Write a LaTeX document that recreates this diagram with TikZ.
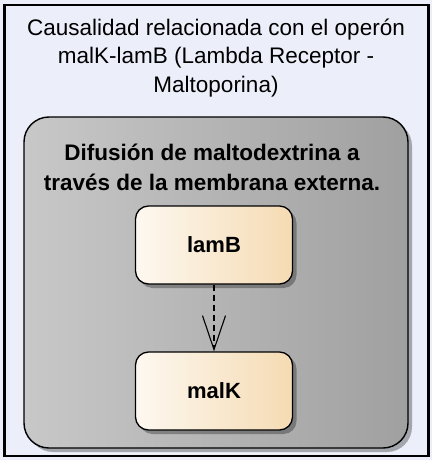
\documentclass[tikz,border=0pt]{standalone}
\usepackage{fontspec}
\setmainfont{Liberation Sans}
\usetikzlibrary{arrows.meta,shadows}
\definecolor{pagebg}{HTML}{ECEFF9}
\definecolor{grayL}{HTML}{C8C8C8}
\definecolor{grayR}{HTML}{A0A0A0}
\definecolor{boxL}{HTML}{FDF8F0}
\definecolor{boxR}{HTML}{F5DBB3}
\tikzset{
  container/.style={draw=black,line width=1.4pt,rounded corners=25pt,
    left color=grayL,right color=grayR,
    drop shadow={shadow xshift=4pt,shadow yshift=-4pt,fill=black,opacity=0.3}},
  genebox/.style={draw=black,line width=1.3pt,rounded corners=13pt,
    left color=boxL,right color=boxR,minimum width=157pt,minimum height=78pt,
    font=\fontsize{22}{26}\selectfont\bfseries,
    drop shadow={shadow xshift=4pt,shadow yshift=-4pt,fill=black,opacity=0.3}},
  causes/.style={dashed,line width=1.1pt,dash pattern=on 6pt off 4pt,
    -{Straight Barb[length=34pt,width=23pt,line width=1.1pt]}}
}
\begin{document}
\begin{tikzpicture}[x=1pt,y=-1pt]
\useasboundingbox (0,0) rectangle (432,460);
\fill[pagebg] (0,0) rectangle (432,460);
% outer frame
\draw[line width=2.2pt] (4.5,5) rectangle (428.5,456);
\node[align=center,font=\fontsize{22.5}{28.5}\selectfont] (title) at (216,58)
  {Causalidad relacionada con el operón\\ malK-lamB (Lambda Receptor -\\ Maltoporina)};
% container
\node[container,minimum width=384pt,minimum height=331pt] (cont) at (216,282.5) {};
\node[align=center,font=\fontsize{22.5}{30}\selectfont\bfseries] (desc) at (212,167)
  {Difusión de maltodextrina a\\ través de la membrana externa.};
% genes
\node[genebox] (lamB) at (214,245) {lamB};
\node[genebox] (malK) at (214,391) {malK};
\draw[causes] (lamB) -- (malK);
\end{tikzpicture}
\end{document}
